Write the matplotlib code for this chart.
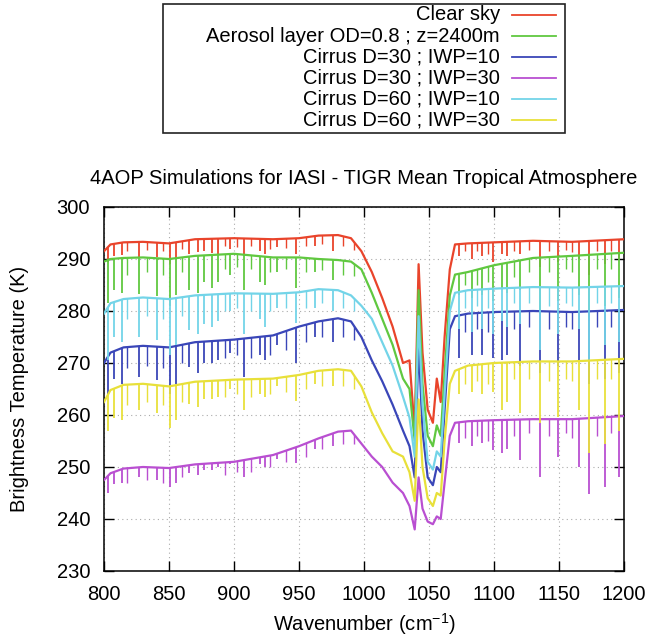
import numpy as np
import matplotlib.pyplot as plt
from matplotlib.lines import Line2D
from matplotlib.patches import Rectangle

plt.rcParams['font.family'] = ['Liberation Sans', 'DejaVu Sans']

# continuum points (cm-1 / K)
wn = [800, 805, 815, 830, 850, 870, 900, 930, 950, 965, 980, 990, 998,
      1006, 1014, 1022, 1030, 1035, 1039, 1042, 1045, 1049, 1053, 1056, 1059,
      1062, 1066, 1070, 1080, 1100, 1130, 1160, 1200]

bt_clear = [291.5, 292.8, 293.2, 293.3, 293.0, 293.8, 294.0, 293.8, 294.0, 294.5, 294.6, 294.0, 291.5,
            287.5, 282.5, 277.0, 270.0, 270.5, 257.0, 289.0, 272.0, 261.0, 258.5, 267.0, 262.5,
            275.0, 288.0, 292.8, 293.0, 293.2, 293.5, 293.3, 293.8]
bt_aerosol = [289.5, 290.0, 290.2, 290.3, 290.0, 290.6, 291.0, 290.3, 290.3, 290.0, 289.8, 289.5, 288.0,
              283.5, 278.5, 273.5, 267.0, 265.0, 255.0, 284.0, 266.0, 256.0, 254.0, 258.0, 256.0,
              268.0, 283.0, 287.0, 287.5, 288.8, 290.2, 290.6, 291.2]
bt_c30_10 = [270.0, 272.0, 273.0, 273.3, 273.0, 274.0, 274.5, 275.3, 277.0, 278.0, 278.6, 278.0, 275.0,
             270.5, 266.5, 262.0, 257.0, 254.0, 248.0, 274.0, 257.0, 248.0, 246.5, 250.0, 249.0,
             261.0, 276.5, 279.0, 279.5, 279.8, 280.0, 279.8, 280.2]
bt_c30_30 = [247.5, 248.8, 249.7, 250.0, 249.8, 250.5, 251.0, 252.3, 254.0, 255.5, 256.8, 257.0, 254.5,
             252.0, 250.0, 247.0, 245.0, 242.5, 238.0, 248.0, 242.0, 239.5, 239.0, 240.5, 240.0,
             247.0, 256.0, 258.5, 258.8, 259.0, 259.2, 259.2, 259.8]
bt_c60_10 = [279.5, 281.5, 282.3, 282.6, 282.3, 283.0, 283.4, 283.3, 283.6, 284.2, 284.0, 283.0, 281.0,
             278.5, 274.0, 269.5, 263.5, 259.5, 252.0, 279.0, 262.0, 251.0, 249.5, 253.0, 252.0,
             264.0, 280.0, 283.5, 284.0, 284.3, 284.6, 284.5, 284.8]
bt_c60_30 = [262.5, 264.8, 265.8, 266.0, 265.5, 266.4, 266.8, 267.0, 267.7, 268.5, 268.8, 268.5, 265.5,
             260.5, 256.5, 253.0, 252.0, 249.0, 243.5, 263.0, 250.0, 244.0, 242.5, 245.0, 244.5,
             255.0, 266.0, 268.5, 269.5, 270.0, 270.3, 270.3, 270.8]

# strong absorption lines: position and bottom of each dip
line_wn = [803, 808, 814, 827, 841, 851, 855, 865, 872, 877, 883, 888, 897, 908, 920, 924, 933,
           948, 962, 976, 1073, 1083, 1091, 1099, 1106, 1110, 1120, 1135, 1149, 1165, 1173, 1185, 1196]

dip_clear = [289.5, 290.5, 290.8, 290.2, 290.3, 289.0, 290.0, 291.0, 291.3, 291.5, 291.2, 291.0, 292.0,
             290.5, 291.5, 291.0, 292.3, 291.0, 292.5, 291.5, 290.5, 290.0, 290.5, 289.5, 291.0,
             290.5, 291.0, 288.5, 289.5, 290.0, 287.0, 289.0, 290.0]
dip_aerosol = [281.5, 284.0, 283.5, 283.3, 282.8, 281.0, 283.0, 284.0, 283.5, 285.5, 284.5, 285.5, 287.0,
               284.0, 285.5, 285.0, 287.5, 284.5, 287.5, 286.0, 283.0, 282.5, 283.0, 282.0, 284.5,
               283.5, 284.0, 280.0, 282.0, 283.0, 278.0, 281.0, 282.5]
dip_c30_10 = [264.0, 267.0, 266.0, 267.4, 266.7, 264.0, 266.0, 269.3, 268.0, 270.0, 270.0, 270.5, 272.0,
              267.4, 271.5, 270.5, 273.5, 270.0, 275.0, 274.0, 271.0, 271.5, 271.5, 271.0, 270.5,
              271.5, 269.5, 268.0, 269.5, 270.5, 266.0, 267.0, 268.0]
dip_c30_30 = [245.0, 246.8, 247.0, 248.0, 247.5, 246.2, 247.0, 248.8, 248.5, 249.5, 249.5, 250.0, 250.5,
              248.1, 250.5, 250.0, 251.5, 250.7, 253.5, 254.0, 254.6, 254.0, 254.6, 253.3, 252.6,
              253.5, 251.3, 248.1, 252.0, 250.0, 244.9, 246.2, 248.1]
dip_c60_10 = [270.5, 275.0, 274.0, 275.0, 274.4, 271.5, 273.5, 276.3, 275.5, 277.5, 277.0, 278.0, 280.0,
              275.5, 278.5, 277.0, 280.5, 277.6, 280.5, 280.0, 276.5, 276.0, 276.5, 275.5, 278.0,
              277.0, 277.5, 272.5, 275.5, 276.5, 270.5, 273.5, 274.0]
dip_c60_30 = [257.0, 259.5, 259.0, 261.0, 260.3, 257.5, 259.0, 262.2, 261.5, 263.0, 263.0, 263.5, 265.0,
              261.0, 264.0, 263.5, 265.5, 262.6, 266.0, 265.5, 264.0, 264.5, 264.0, 264.5, 261.0,
              262.5, 260.3, 258.4, 259.7, 261.0, 252.6, 254.5, 257.0]

# weaker lines
weak_wn = [818, 833, 845, 860, 893, 902, 913, 928, 940, 955, 968, 984, 992,
           1078, 1087, 1095, 1115, 1127, 1142, 1155, 1160, 1179, 1190]

weak_clear = [291.5, 291.8, 291.5, 292.0, 292.5, 292.3, 292.5, 292.0, 292.2, 292.5, 292.8, 292.5, 291.8,
              291.5, 291.5, 291.0, 291.5, 291.8, 291.5, 291.8, 291.3, 291.5, 291.5]
weak_aerosol = [287.0, 287.5, 287.0, 287.5, 288.0, 288.5, 288.0, 287.5, 288.0, 287.5, 287.8, 287.0, 286.8,
                285.0, 285.0, 285.5, 286.5, 287.5, 287.5, 288.0, 287.5, 288.0, 288.0]
weak_c30_10 = [269.0, 269.5, 269.0, 270.0, 271.0, 271.5, 271.0, 271.5, 272.5, 274.0, 275.0, 275.0, 274.5,
               276.0, 276.5, 276.0, 276.5, 277.0, 276.5, 277.0, 276.5, 277.0, 277.0]
weak_c30_30 = [247.0, 247.5, 247.0, 248.0, 248.5, 249.0, 249.0, 250.0, 251.0, 252.0, 253.5, 254.5, 254.5,
               255.5, 256.0, 255.0, 256.0, 256.5, 256.0, 256.5, 255.5, 256.0, 256.5]
weak_c60_10 = [278.5, 279.0, 278.5, 279.0, 280.0, 280.5, 280.0, 280.0, 280.5, 280.5, 281.5, 280.5, 280.0,
               280.5, 281.0, 280.5, 281.5, 281.5, 281.0, 281.5, 281.0, 281.5, 281.5]
weak_c60_30 = [262.0, 262.5, 262.0, 262.5, 263.5, 264.0, 263.5, 264.0, 264.5, 265.0, 265.5, 265.5, 265.0,
               266.0, 266.5, 266.0, 267.0, 267.0, 266.5, 267.0, 266.5, 267.0, 267.0]

labels = ["Clear sky", "Aerosol layer OD=0.8 ; z=2400m", "Cirrus D=30 ; IWP=10",
          "Cirrus D=30 ; IWP=30", "Cirrus D=60 ; IWP=10", "Cirrus D=60 ; IWP=30"]
colors = ['#e9442b', '#60c840', '#3a46b8', '#b94fd1', '#73d4e8', '#e8e03a']
conts = [bt_clear, bt_aerosol, bt_c30_10, bt_c30_30, bt_c60_10, bt_c60_30]
dips = [dip_clear, dip_aerosol, dip_c30_10, dip_c30_30, dip_c60_10, dip_c60_30]
weaks = [weak_clear, weak_aerosol, weak_c30_10, weak_c30_30, weak_c60_10, weak_c60_30]

W, H = 650, 641
fs = 14.5
fig = plt.figure(figsize=(W / 100, H / 100), dpi=100)
ax = fig.add_axes([104 / W, 1 - 571 / H, 520 / W, 364 / H])

for cont, dip, weak, col in zip(conts, dips, weaks, colors):
    # area under the continuum, used to cut the line dips at the curve
    under = ax.fill_between(wn, cont, 225, facecolor='none', edgecolor='none')
    clip = under.get_paths()[0]
    vl = ax.vlines(line_wn, dip, 300, colors=col, lw=1.3, zorder=3)
    vl.set_clip_path(clip, ax.transData)
    vw = ax.vlines(weak_wn, weak, 300, colors=col, lw=1.0, zorder=3)
    vw.set_clip_path(clip, ax.transData)
    ax.plot(wn, cont, color=col, lw=1.6, zorder=3)

ax.set_xlim(800, 1200)
ax.set_ylim(230, 300)
ax.set_xticks(np.arange(800, 1201, 50))
ax.set_yticks(np.arange(230, 301, 10))
ax.grid(True, linestyle=(0, (1, 3)), color='#aaaaaa', lw=0.8)
ax.tick_params(direction='in', length=7, width=1, top=True, right=True,
               labelsize=fs, pad=10)
for sp in ax.spines.values():
    sp.set_linewidth(1.1)

fig.text(364 / W, 1 - 178 / H, "4AOP Simulations for IASI - TIGR Mean Tropical Atmosphere",
         ha='center', va='center', fontsize=fs)
fig.text(20 / W, 1 - 389 / H, "Brightness Temperature (K)", rotation=90,
         ha='center', va='center', fontsize=fs)
fig.text(364 / W, 1 - 624 / H, "Wavenumber (cm$^{\\mathregular{-1}}$)",
         ha='center', va='center', fontsize=fs)

# legend box above the plot, text right-aligned with the sample after it
fig.patches.append(Rectangle((163 / W, 1 - 133 / H), (565 - 163) / W, (133 - 4) / H,
                             transform=fig.transFigure, fill=False, ec='#222222', lw=1.2))
for i, (lab, col) in enumerate(zip(labels, colors)):
    yy = 1 - (15 + 21 * i) / H
    fig.text(500 / W, yy, lab, ha='right', va='center', fontsize=fs)
    fig.add_artist(Line2D([512 / W, 556 / W], [yy, yy], transform=fig.transFigure,
                          color=col, lw=1.3))

fig.savefig('out.png', dpi=100)
